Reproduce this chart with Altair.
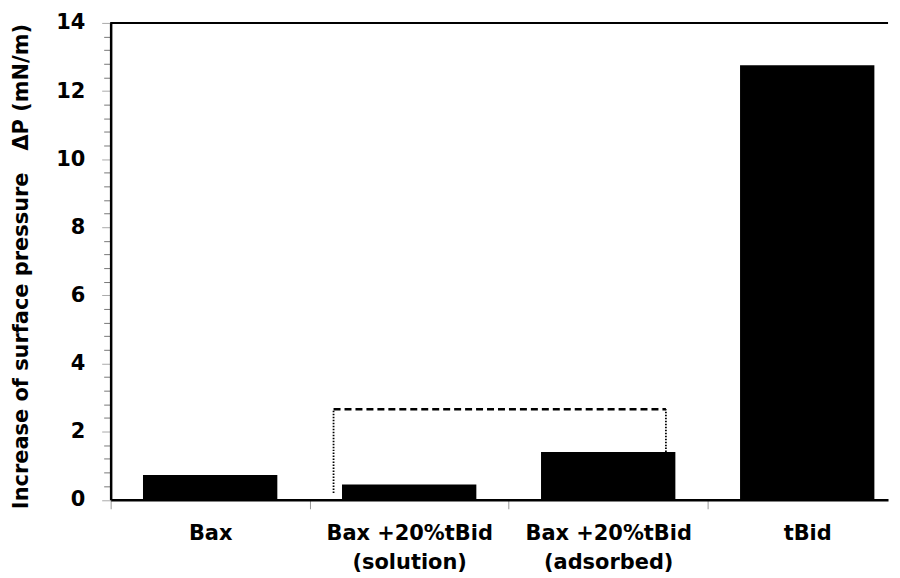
import json
import altair as alt
import pandas as pd

# ---- data ----
categories = ["Bax", "Bax +20%tBid\n(solution)", "Bax +20%tBid\n(adsorbed)", "tBid"]
values = [0.73, 0.45, 1.40, 12.76]

# bracket joining the two Bax+tBid bars (data units)
bracket_x = [1.12, 2.79]
bracket_top = 2.66
bracket_left_bottom = 0.20
bracket_right_bottom = 1.40

y_ticks = [round(0.4 * k, 1) for k in range(36)]
x_ticks = [0, 0.5, 1, 1.5, 2, 2.5, 3, 3.5]

FONT = "DejaVu Sans"
FS = 21
BAR_W = 0.675
X_MAX = 3.906

bars = pd.DataFrame({
    "cat": categories,
    "pos": [i + 0.5 for i in range(len(categories))],
    "val": values,
})

label_expr = ""
for i, c in enumerate(categories):
    label_expr += f"datum.value == {i + 0.5} ? {json.dumps(c.split(chr(10)))} : "
label_expr += "''"

is_major = "abs(datum.value/2 - round(datum.value/2)) < 0.001"

xscale = alt.Scale(domain=[0, X_MAX], nice=False, zero=False)
yscale = alt.Scale(domain=[0, 14], nice=False)

x_axis = alt.Axis(
    values=x_ticks, tickCount=100,
    labelExpr=label_expr,
    tickOpacity={"condition": {"test": "datum.value % 1 == 0", "value": 1}, "value": 0},
    tickSize=9, tickColor="#999999", tickWidth=1,
    domainColor="black", domainWidth=2.5,
    labelFont=FONT, labelFontSize=FS, labelFontWeight="bold", labelColor="black",
    labelLineHeight=29, labelPadding=14, labelOverlap=False, labelFlush=False,
    grid=False, title=None,
)

y_axis = alt.Axis(
    values=y_ticks, tickCount=100,
    labelExpr=f"{is_major} ? format(datum.value, 'd') : ''",
    tickSize={"condition": {"test": is_major, "value": 9}, "value": 7},
    tickColor={"condition": {"test": is_major, "value": "#aaaaaa"}, "value": "#777777"},
    tickWidth=1,
    domainColor="black", domainWidth=2.5,
    labelFont=FONT, labelFontSize=FS, labelFontWeight="bold", labelColor="black",
    labelPadding=17, labelOverlap=False, labelFlush=False, labelBound=False,
    grid=False,
    title="Increase of surface pressure\u00a0\u00a0\u00a0ΔP (mN/m)",
    titleFont=FONT, titleFontSize=FS, titleFontWeight="bold", titleColor="black",
    titleX=-89, titleY=244, titleBaseline="middle", titleAlign="center", titleAngle=270,
)

bar_layer = alt.Chart(bars).transform_calculate(
    x0=f"datum.pos - {BAR_W / 2}", x1=f"datum.pos + {BAR_W / 2}"
).mark_bar(color="black").encode(
    x=alt.X("x0:Q", scale=xscale, axis=x_axis),
    x2="x1:Q",
    y=alt.Y("val:Q", scale=yscale, axis=y_axis),
    y2=alt.datum(0),
)

top_line = alt.Chart(bars).mark_rule(color="black", strokeWidth=2).encode(
    y=alt.datum(14)
)

hline = pd.DataFrame({"x": [bracket_x[0]], "x2": [bracket_x[1]], "y": [bracket_top]})
h_layer = alt.Chart(hline).mark_rule(color="black", strokeWidth=2.5, strokeDash=[7, 4]).encode(
    x="x:Q", x2="x2:Q", y="y:Q"
)

legs = pd.DataFrame({
    "x": bracket_x,
    "y": [bracket_left_bottom, bracket_right_bottom],
    "y2": [bracket_top, bracket_top],
})
v_layer = alt.Chart(legs).mark_rule(color="black", strokeWidth=1.8, strokeDash=[1.5, 1.5]).encode(
    x="x:Q", y="y:Q", y2="y2:Q"
)

chart = alt.layer(bar_layer, top_line, h_layer, v_layer).properties(
    width=780, height=478.5,
    autosize=alt.AutoSizeParams(type="none"),
    padding={"left": 103, "top": 14, "right": 4, "bottom": 75},
    background="white",
).configure_view(stroke=None)

chart.save("out.html", embed_options={"renderer": "svg", "actions": False})
